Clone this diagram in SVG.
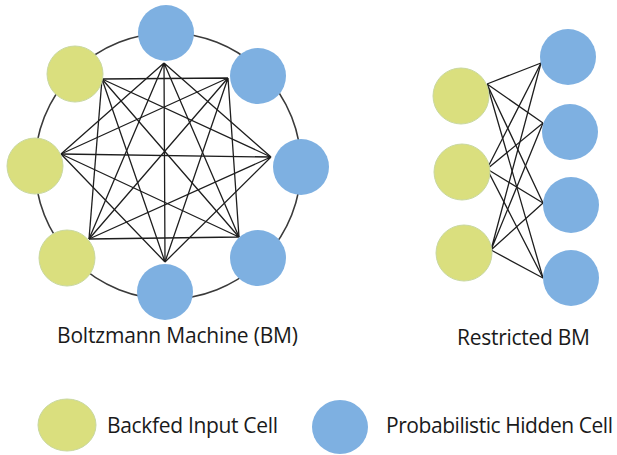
<svg xmlns="http://www.w3.org/2000/svg" width="617" height="455" viewBox="0 0 617 455">
<style>
.y{fill:#dadf7e;stroke:#c9d8a0;stroke-width:1}
.b{fill:#7eb0e1;stroke:none}
.e{stroke:#1e1e1e;stroke-width:1.3;fill:none}
.ring{stroke:#3a3a3a;stroke-width:1.6;fill:none}
text{font-family:"Open Sans","Liberation Sans",sans-serif;font-size:21px;fill:#1a1a1a}
</style>
<rect width="617" height="455" fill="#ffffff"/>
<circle id="bm-ring" class="ring" cx="168" cy="166" r="133"/>
<g id="connectors">
<g id="bm-edges" class="e">
<path d="M164 63L271 157M164 63L239 237M164 63L165 262M164 63L89 239M164 63L61 154"/>
<path d="M228 78L239 237M228 78L165 262M228 78L89 239M228 78L61 154M228 78L102 79"/>
<path d="M271 157L165 262M271 157L89 239M271 157L61 154M271 157L102 79"/>
<path d="M239 237L89 239M239 237L61 154M239 237L102 79"/>
<path d="M165 262L61 154M165 262L102 79"/>
<path d="M89 239L102 79"/>
</g>
<g id="rbm-edges" class="e">
<path d="M487 84L541 63M487 84L543 123M487 84L543 203M487 84L543 278"/>
<path d="M487 169L541 63M487 169L543 123M487 169L543 203M487 169L543 278"/>
<path d="M491 250L541 63M491 250L543 123M491 250L543 203M491 250L543 278"/>
</g>
</g>
<g id="bm-n0"><circle class="b" cx="166" cy="33" r="28"/></g>
<g id="bm-n1"><circle class="b" cx="258" cy="76" r="28"/></g>
<g id="bm-n2"><circle class="b" cx="301" cy="167" r="28"/></g>
<g id="bm-n3"><circle class="b" cx="258" cy="258" r="28"/></g>
<g id="bm-n4"><circle class="b" cx="165" cy="292" r="28"/></g>
<g id="bm-n5"><circle class="y" cx="67" cy="258" r="28"/></g>
<g id="bm-n6"><circle class="y" cx="35" cy="166" r="28"/></g>
<g id="bm-n7"><circle class="y" cx="75" cy="74" r="28"/></g>
<g id="rbm-v1"><circle class="y" cx="461" cy="96" r="28"/></g>
<g id="rbm-v2"><circle class="y" cx="462" cy="172" r="28"/></g>
<g id="rbm-v3"><circle class="y" cx="464" cy="253" r="28"/></g>
<g id="rbm-h1"><circle class="b" cx="568" cy="57" r="28"/></g>
<g id="rbm-h2"><circle class="b" cx="570" cy="132" r="28"/></g>
<g id="rbm-h3"><circle class="b" cx="571" cy="205" r="28"/></g>
<g id="rbm-h4"><circle class="b" cx="571" cy="278" r="28"/></g>
<text x="57" y="343" textLength="241">Boltzmann Machine (BM)</text>
<text x="457" y="345" textLength="133">Restricted BM</text>
<g id="legend-input">
<ellipse class="y" cx="67" cy="425" rx="29" ry="26"/>
<text x="107" y="433" textLength="171">Backfed Input Cell</text>
</g>
<g id="legend-hidden">
<ellipse class="b" cx="340" cy="427" rx="28" ry="27"/>
<text x="386" y="433" textLength="227">Probabilistic Hidden Cell</text>
</g>
</svg>
